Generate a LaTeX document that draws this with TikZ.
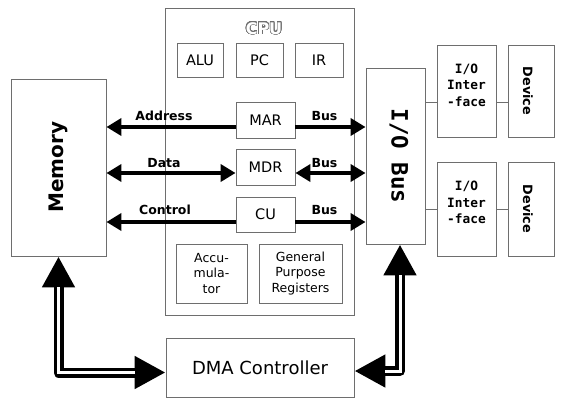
\documentclass[tikz,border=0pt]{standalone}
\usepackage{fontspec}
\setmainfont{DejaVu Sans}
\newfontfamily\monofont{DejaVu Sans Mono}
\usepackage{contour}
\contourlength{0.65pt}
\contournumber{32}
\usetikzlibrary{arrows.meta}
\definecolor{boxc}{RGB}{110,110,110}
\begin{document}
\begin{tikzpicture}[x=1pt,y=-1pt,
  box/.style={draw=boxc,line width=0.9pt,rectangle,inner sep=0pt,align=center},
  regtxt/.style={font=\fontsize{14.5}{17}\selectfont},
  smalltxt/.style={font=\fontsize{12.5}{15.5}\selectfont},
  lbl/.style={font=\fontsize{12.5}{15}\selectfont\bfseries,inner sep=0pt},
  iotxt/.style={font=\fontsize{12.8}{16.5}\selectfont\monofont\bfseries,align=center,inner sep=0pt},
  devtxt/.style={font=\fontsize{12.8}{15}\selectfont\bfseries,rotate=-90,inner sep=0pt},
  bigarrow/.style={line width=4pt},
  dblout/.style={line width=10pt,line join=round},
  dblin/.style={white,line width=3pt,shorten <=31pt,shorten >=31pt},
  thinline/.style={draw=boxc,line width=0.9pt},
  tri/.tip={Triangle[length=15pt,width=17pt]},
  bigtri/.tip={Triangle[length=31pt,width=31pt]}
]
\useasboundingbox (0,0) rectangle (572,408);

% CPU and inner registers
\node[box,minimum width=189pt,minimum height=307pt] (cpu) at (259.5,161.5) {};
\node[inner sep=0pt,font=\fontsize{16}{18}\selectfont\bfseries] (cputitle) at (264,28.5) {\color{white}\contour{boxc}{CPU}};
\node[box,regtxt,minimum width=46pt,minimum height=34pt] (alu) at (200,60) {ALU};
\node[box,regtxt,minimum width=47pt,minimum height=34pt] (pc) at (259.5,60) {PC};
\node[box,regtxt,minimum width=48pt,minimum height=34pt] (ir) at (319,60) {IR};
\node[box,regtxt,minimum width=59pt,minimum height=36pt] (mar) at (265.5,120) {MAR};
\node[box,regtxt,minimum width=59pt,minimum height=36pt] (mdr) at (265.5,167) {MDR};
\node[box,regtxt,minimum width=59pt,minimum height=35pt] (cu) at (265.5,214.5) {CU};
\node[box,smalltxt,minimum width=71pt,minimum height=59pt] (acc) at (211.5,273.5) {Accu-\\mula-\\tor};
\node[box,smalltxt,minimum width=83pt,minimum height=59pt] (gpr) at (300.5,273.5) {General\\Purpose\\Registers};

% Memory
\node[box,minimum width=95pt,minimum height=177pt] (mem) at (58.5,167.5) {};
\node[font=\fontsize{20}{22}\selectfont\bfseries,rotate=90,inner sep=0pt] (memtxt) at (58.5,167) {Memory};

% I/O bus
\node[box,minimum width=59pt,minimum height=176pt] (iobus) at (395.5,156) {};
\node[font=\fontsize{22.5}{24}\selectfont\monofont\bfseries,rotate=-90,inner sep=0pt] (iobustxt) at (399,156) {I/O Bus};

% I/O interfaces and devices
\node[box,minimum width=59pt,minimum height=92pt] (if1) at (466.5,91) {};
\node[iotxt] (if1txt) at (466.5,85) {I/O\\Inter\\-face};
\node[box,minimum width=59pt,minimum height=94pt] (if2) at (466.5,209) {};
\node[iotxt] (if2txt) at (466.5,202.5) {I/O\\Inter\\-face};
\node[box,minimum width=46pt,minimum height=92pt] (dev1) at (531,91) {};
\node[devtxt] (dev1txt) at (528,91) {Device};
\node[box,minimum width=46pt,minimum height=94pt] (dev2) at (531,209) {};
\node[devtxt] (dev2txt) at (528,209) {Device};

% DMA
\node[box,font=\fontsize{18}{20}\selectfont,minimum width=188pt,minimum height=59pt] (dma) at (260,367.5) {DMA Controller};

% bus labels
\node[lbl] (laddr) at (164,116) {Address};
\node[lbl] (ldata) at (164,163) {Data};
\node[lbl] (lctrl) at (165,210) {Control};
\node[lbl] (lbus1) at (324.5,116) {Bus};
\node[lbl] (lbus2) at (324.5,163) {Bus};
\node[lbl] (lbus3) at (324.5,210) {Bus};

% bus arrows
\coordinate (ya) at (0,127);
\coordinate (yd) at (0,173);
\coordinate (yc) at (0,222);
\draw[bigarrow,-tri] (mar.west |- ya) -- (mem.east |- ya);
\draw[bigarrow,-tri] (mar.east |- ya) -- (iobus.west |- ya);
\draw[bigarrow,tri-tri] (mem.east |- yd) -- (mdr.west |- yd);
\draw[bigarrow,tri-tri] (mdr.east |- yd) -- (iobus.west |- yd);
\draw[bigarrow,-tri] (cu.west |- yc) -- (mem.east |- yc);
\draw[bigarrow,-tri] (cu.east |- yc) -- (iobus.west |- yc);

% I/O connections
\coordinate (y1) at (0,102);
\draw[thinline] (iobus.east |- y1) -- (if1.west |- y1);
\draw[thinline] (if1.east |- y1) -- (dev1.west |- y1);
\draw[thinline] (iobus.east |- if2.west) -- (if2.west);
\draw[thinline] (if2.east) -- (dev2.west);

% DMA double arrows
\coordinate (dl) at (0,372.5);
\coordinate (dr) at (0,371);
\coordinate (iod) at ([xshift=4.5pt]iobus.south);
\draw[dblout,bigtri-bigtri] (mem.south) |- (dma.west |- dl);
\draw[dblin] (mem.south) |- (dma.west |- dl);
\draw[dblout,bigtri-bigtri] (iod) |- (dma.east |- dr);
\draw[dblin] (iod) |- (dma.east |- dr);
\end{tikzpicture}
\end{document}
